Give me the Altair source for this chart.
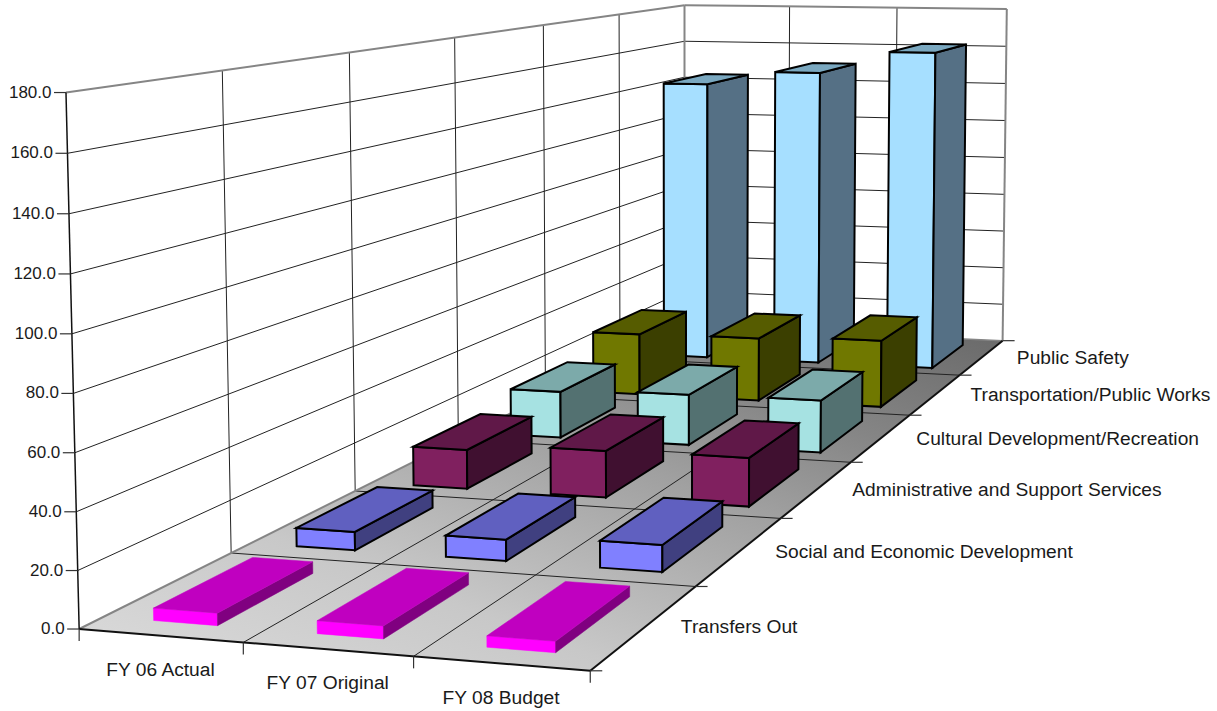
import altair as alt
import numpy as np

WIDTH, HEIGHT = 1217, 711

categories = ["FY 06 Actual", "FY 07 Original", "FY 08 Budget"]
series = ["Transfers Out", "Social and Economic Development",
          "Administrative and Support Services", "Cultural Development/Recreation",
          "Transportation/Public Works", "Public Safety"]
value_ticks = [0, 20, 40, 60, 80, 100, 120, 140, 160, 180]

transfers_out = [4.3, 4.4, 3.8]
social_economic = [7.0, 8.0, 10.0]
administrative = [16.2, 19.2, 19.8]
cultural = [20.8, 22.5, 23.0]
transportation = [29.5, 30.2, 31.8]
public_safety = [143.5, 150.5, 161.8]
series_values = [transfers_out, social_economic, administrative,
                 cultural, transportation, public_safety]

# front, top and side face colours per series
palette = [("#ff00ff", "#c000c0", "#800080"),
           ("#8080ff", "#6060c0", "#404080"),
           ("#80205f", "#601848", "#401030"),
           ("#a6e2e2", "#7caaaa", "#537171"),
           ("#707800", "#565c00", "#3b3f00"),
           ("#a6dfff", "#7aa8c0", "#557085")]

BAR_X = (0.31, 0.705)
BAR_Z = (0.15, 0.82)

# Camera calibration: (category pos, value, series pos) -> page pixel
calibration = [
    ((0, 0, 0), (79, 629)), ((1, 0, 0), (243, 643)), ((2, 0, 0), (413, 656)), ((3, 0, 0), (590, 671)),
    ((3, 0, 1), (695, 586)), ((3, 0, 3), (850, 462)), ((3, 0, 4), (912, 415)), ((3, 0, 5), (959, 375)),
    ((3, 0, 6), (1002, 341)), ((0, 0, 1), (232, 553)),
    ((0, 180, 0), (66, 93)), ((0, 180, 1), (222, 71)), ((0, 180, 2), (349, 52)), ((0, 180, 3), (455, 37)),
    ((0, 180, 4), (543, 25)), ((0, 180, 5), (619, 14)), ((0, 180, 6), (684, 5)),
    ((1, 180, 6), (790, 7)), ((2, 180, 6), (897, 8)), ((3, 180, 6), (1007, 9)),
    ((0, 20, 0), (77.5, 571)), ((0, 160, 0), (68, 153)), ((0, 100, 0), (72.5, 334)),
]


def fit_camera(pairs):
    rows = []
    for (cx, v, cz), (u, w) in pairs:
        p = [cx, v / 100.0, cz, 1.0]
        rows.append(p + [0, 0, 0, 0] + [-u * c for c in p])
        rows.append([0, 0, 0, 0] + p + [-w * c for c in p])
    _, _, vt = np.linalg.svd(np.array(rows, dtype=float))
    return vt[-1].reshape(3, 4)


CAMERA = fit_camera(calibration)


def project(cx, v, cz):
    h = CAMERA @ np.array([cx, v / 100.0, cz, 1.0])
    return [float(h[0] / h[2]), float(h[1] / h[2])]


def polygon(corners, fill, stroke, sw):
    ring = [project(*c) for c in corners]
    ring.append(ring[0])
    return {"type": "Feature", "geometry": {"type": "Polygon", "coordinates": [ring]},
            "properties": {"fill": fill, "stroke": stroke, "sw": sw}}


def segment(a, b, stroke, sw):
    return {"type": "Feature",
            "geometry": {"type": "LineString", "coordinates": [project(*a), project(*b)]},
            "properties": {"stroke": stroke, "sw": sw}}


def pixel_segment(p, q, stroke, sw):
    return {"type": "Feature", "geometry": {"type": "LineString", "coordinates": [p, q]},
            "properties": {"stroke": stroke, "sw": sw}}


def collection(features):
    return alt.InlineData(values={"type": "FeatureCollection", "features": features},
                          format=alt.DataFormat(property="features"))


top_v = value_ticks[-1]
n_cat, n_ser = len(categories), len(series)
identity = alt.Projection(type="identity", scale=1, translate=[0, 0])

# floor with its diagonal shading
floor = alt.Chart(collection([polygon([(0, 0, 0), (n_cat, 0, 0), (n_cat, 0, n_ser), (0, 0, n_ser)],
                                      "#cccccc", "#808080", 0)])).mark_geoshape(
    fill={"gradient": "linear", "x1": 0, "y1": 1, "x2": 1, "y2": 0,
          "stops": [{"offset": 0, "color": "#dcdcdc"}, {"offset": 0.3, "color": "#c8c8c8"},
                    {"offset": 0.6, "color": "#a0a0a0"}, {"offset": 0.77, "color": "#858585"},
                    {"offset": 1, "color": "#686868"}]},
    strokeWidth=0,
)

# gridlines on the walls and floor, then the chart frame and tick marks
lines = []
GRID, FRAME, AXIS = "#222222", "#858585", "#111111"
for v in value_ticks[1:-1]:
    lines.append(segment((0, v, 0), (0, v, n_ser), GRID, 1))
    lines.append(segment((0, v, n_ser), (n_cat, v, n_ser), GRID, 1))
for z in range(1, n_ser):
    lines.append(segment((0, 0, z), (0, top_v, z), GRID, 1))
    lines.append(segment((0, 0, z), (n_cat, 0, z), GRID, 1))
for x in range(1, n_cat):
    lines.append(segment((x, 0, n_ser), (x, top_v, n_ser), GRID, 1))
    lines.append(segment((x, 0, 0), (x, 0, n_ser), GRID, 1))
lines += [
    segment((0, 0, 0), (0, 0, n_ser), FRAME, 2),
    segment((0, 0, n_ser), (n_cat, 0, n_ser), FRAME, 1.5),
    segment((0, top_v, 0), (0, top_v, n_ser), FRAME, 2),
    segment((0, top_v, n_ser), (n_cat, top_v, n_ser), FRAME, 2),
    segment((0, 0, n_ser), (0, top_v, n_ser), FRAME, 2),
    segment((n_cat, 0, n_ser), (n_cat, top_v, n_ser), FRAME, 2),
    segment((0, 0, 0), (0, top_v, 0), AXIS, 1.5),
    segment((0, 0, 0), (n_cat, 0, 0), AXIS, 2),
    segment((n_cat, 0, 0), (n_cat, 0, n_ser), AXIS, 2),
]
TICK = 12
for v in value_ticks:
    px, py = project(0, v, 0)
    lines.append(pixel_segment([px - TICK, py], [px, py], "#333333", 1.2))
for x in range(n_cat + 1):
    px, py = project(x, 0, 0)
    lines.append(pixel_segment([px, py], [px, py + TICK], "#333333", 1.2))
for z in range(n_ser + 1):
    px, py = project(n_cat, 0, z)
    lines.append(pixel_segment([px, py], [px + TICK, py], "#333333", 1.2))

grid = alt.Chart(collection(lines)).mark_geoshape(filled=False).encode(
    stroke=alt.Stroke("properties.stroke:N", scale=None),
    strokeWidth=alt.StrokeWidth("properties.sw:Q", scale=None),
)

# bars, back row first so nearer rows overlap them
faces = []
for s in range(n_ser - 1, -1, -1):
    front_c, top_c, side_c = palette[s]
    edge = "#000000" if s > 0 else None
    sw = 2 if s > 0 else 0.5
    for c in range(n_cat):
        v = series_values[s][c]
        x0, x1 = c + BAR_X[0], c + BAR_X[1]
        z0, z1 = s + BAR_Z[0], s + BAR_Z[1]
        faces.append(polygon([(x0, 0, z0), (x1, 0, z0), (x1, v, z0), (x0, v, z0)], front_c, edge or front_c, sw))
        faces.append(polygon([(x1, 0, z0), (x1, 0, z1), (x1, v, z1), (x1, v, z0)], side_c, edge or side_c, sw))
        faces.append(polygon([(x0, v, z0), (x1, v, z0), (x1, v, z1), (x0, v, z1)], top_c, edge or top_c, sw))

bars = alt.Chart(collection(faces)).mark_geoshape(strokeJoin="miter").encode(
    fill=alt.Fill("properties.fill:N", scale=None),
    stroke=alt.Stroke("properties.stroke:N", scale=None),
    strokeWidth=alt.StrokeWidth("properties.sw:Q", scale=None),
)

# axis text, placed from the projected tick positions
labels_left, labels_mid, labels_right = [], [], []
for v in value_ticks:
    px, py = project(0, v, 0)
    labels_left.append({"x": px - TICK - 2.5, "y": py, "t": f"{v:.1f}"})
for c, name in enumerate(categories):
    px, py = project(c + 0.5, 0, 0)
    labels_mid.append({"x": px, "y": py + 34, "t": name})
for s, name in enumerate(series):
    px, py = project(n_cat, 0, s + 0.5)
    labels_right.append({"x": px + 35, "y": py + 1, "t": name})

x_px = alt.X("x:Q", scale=alt.Scale(domain=[0, WIDTH]), axis=None)
y_px = alt.Y("y:Q", scale=alt.Scale(domain=[HEIGHT, 0]), axis=None)


def text_layer(rows, align, size):
    return alt.Chart(alt.Data(values=rows)).mark_text(
        align=align, baseline="middle", font="Liberation Sans", fontSize=size, color="#1a1a1a"
    ).encode(x=x_px, y=y_px, text="t:N")


chart = alt.layer(
    floor.project(**identity.to_dict()),
    grid.project(**identity.to_dict()),
    bars.project(**identity.to_dict()),
    text_layer(labels_left, "right", 17),
    text_layer(labels_mid, "center", 19.2),
    text_layer(labels_right, "left", 19.2),
).resolve_scale(x="shared", y="shared").properties(
    width=WIDTH, height=HEIGHT, padding=0, autosize=alt.AutoSizeParams(type="none"), background="white"
).configure_view(stroke=None)

chart.save("out.html", embed_options={"renderer": "svg", "actions": False})
